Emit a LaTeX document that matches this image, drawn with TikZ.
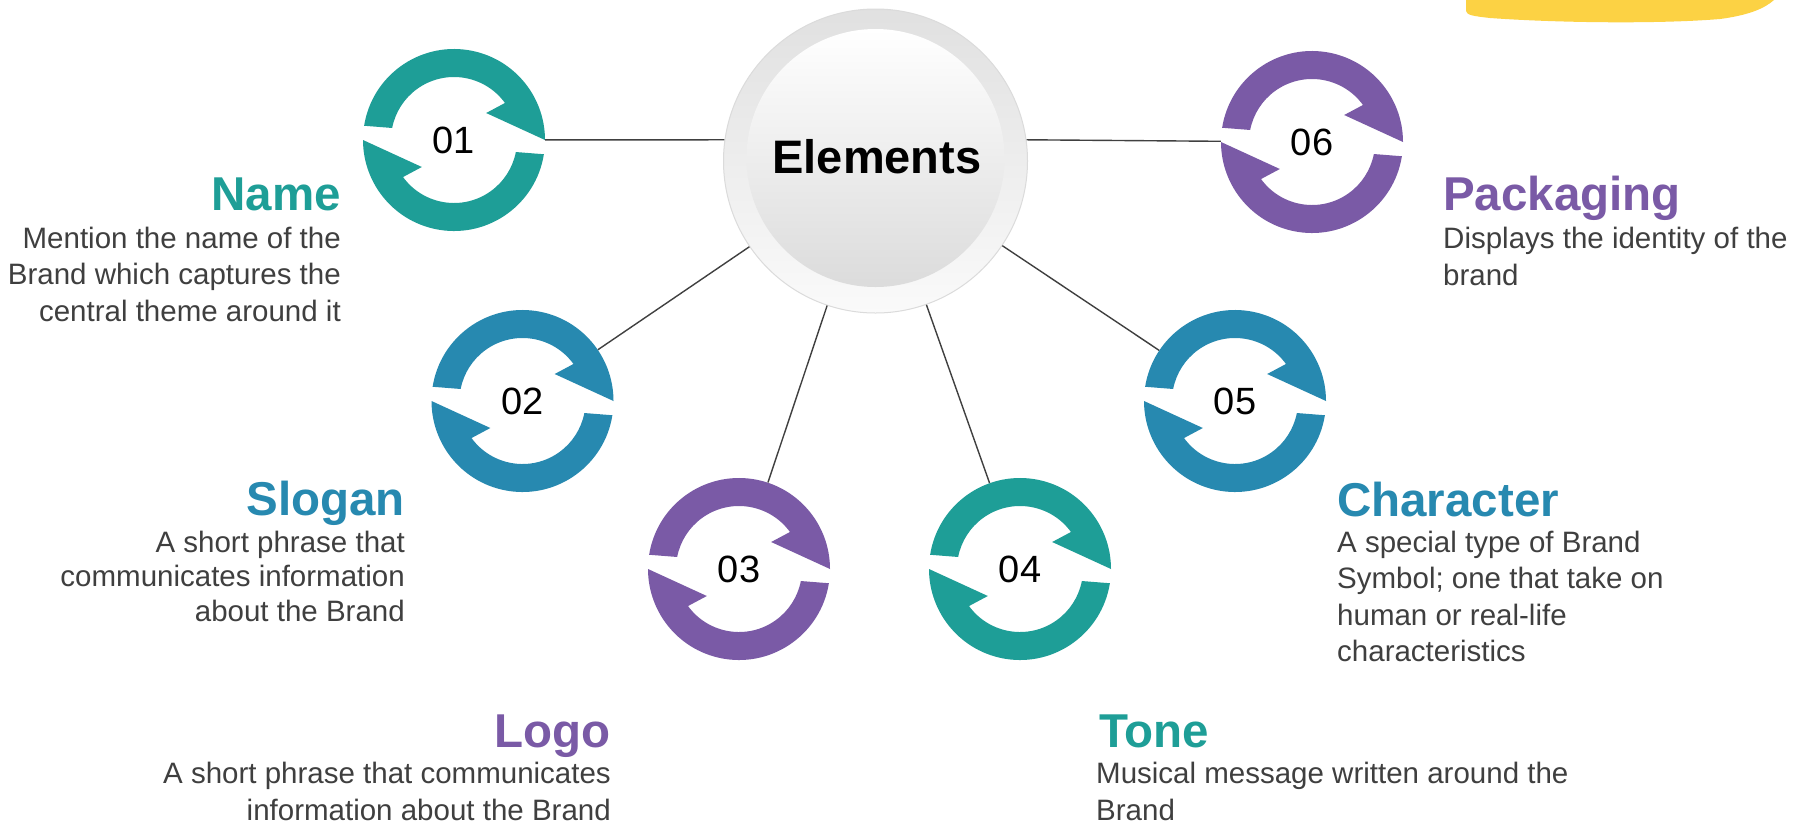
\documentclass[tikz,border=0pt]{standalone}
\usepackage{fontspec}
\setmainfont{Liberation Sans}
\definecolor{cteal}{HTML}{1E9E97}
\definecolor{cblue}{HTML}{2789B0}
\definecolor{cpurple}{HTML}{7A5AA6}
\definecolor{ctxt}{HTML}{3F3F3F}
\definecolor{cyellow}{HTML}{FCD244}
\definecolor{cline}{HTML}{404040}
\newcommand\rtxt[2]{\vtop{\baselineskip=#1pt\lineskiplimit=-1000pt\lineskip=0pt\halign{\hfil##\cr#2\crcr}}}
\newcommand\ltxt[2]{\vtop{\baselineskip=#1pt\lineskiplimit=-1000pt\lineskip=0pt\halign{##\hfil\cr#2\crcr}}}
\tikzset{
  ring/.pic={
    \fill[#1] (171:91) arc[start angle=171,end angle=0,radius=91] -- (40:42) -- (36:63) arc[start angle=36,end angle=169,radius=63] -- cycle;
    \fill[#1] (351:91) arc[start angle=351,end angle=180,radius=91] -- (220:42) -- (216:63) arc[start angle=216,end angle=349,radius=63] -- cycle;
  },
  icon/.style={circle, minimum size=182pt, inner sep=0pt, font=\fontsize{38}{40}\selectfont},
  conn/.style={draw=cline, line width=1.4pt},
  headtxt/.style={inner sep=0pt, text=#1, font=\bfseries\fontsize{47.5}{50}\selectfont},
  bodytxt/.style={inner sep=0pt, text=ctxt, font=\fontsize{29.5}{32}\selectfont},
}
\begin{document}
\begin{tikzpicture}[x=1pt,y=1pt]
\fill[white] (0,0) rectangle (1800,-823);
\useasboundingbox (0,0) rectangle (1800,-823);

% yellow shape top right
\fill[cyellow] (1466,0) -- (1466,-11) .. controls (1467,-15) and (1472,-16) .. (1490,-18)
  .. controls (1560,-23) and (1660,-24) .. (1720,-19) .. controls (1750,-15) and (1765,-8) .. (1774,0) -- cycle;

% centre
\node[circle, minimum size=304pt, inner sep=0pt, top color=gray!24, bottom color=gray!4, draw=gray!28, line width=1pt] (el) at (875.5,-161) {};
\node[circle, minimum size=258pt, inner sep=0pt, top color=white, bottom color=gray!28] (elin) at (875.5,-158) {};
\node[inner sep=0pt, anchor=base, font=\bfseries\fontsize{47}{50}\selectfont] (elt) at (877,-173) {Elements};

% icons
\node[icon] (i1) at (454,-140) {01};
\node[icon] (i2) at (522.5,-401) {02};
\node[icon] (i3) at (739,-569) {03};
\node[icon] (i4) at (1020,-569) {04};
\node[icon] (i5) at (1235,-401) {05};
\node[icon] (i6) at (1312,-142) {06};
\pic at (i1) {ring=cteal};
\pic at (i2) {ring=cblue};
\pic at (i3) {ring=cpurple};
\pic at (i4) {ring=cteal};
\pic at (i5) {ring=cblue};
\pic at (i6) {ring=cpurple};

% connectors
\draw[conn] (i1) -- (el.172);
\draw[conn] (i6) -- (el.8);
\draw[conn] (i2) -- (el);
\draw[conn] (i3) -- (el);
\draw[conn] (i4) -- (el);
\draw[conn] (i5) -- (el);

% texts
\node[headtxt=cteal, anchor=base east] (hname) at (341,-210) {Name};
\node[bodytxt, anchor=base east] (bname) at (341,-248) {\rtxt{36.5}{Mention the name of the\cr Brand which captures the\cr central theme around it}};

\node[headtxt=cblue, anchor=base east] (hslogan) at (405,-515) {Slogan};
\node[bodytxt, anchor=base east] (bslogan) at (405,-552) {\rtxt{34.5}{A short phrase that\cr communicates information\cr about the Brand}};

\node[headtxt=cpurple, anchor=base east] (hlogo) at (611,-747) {Logo};
\node[bodytxt, anchor=base east] (blogo) at (611,-783) {\rtxt{37}{A short phrase that communicates\cr information about the Brand}};

\node[headtxt=cteal, anchor=base west] (htone) at (1099,-747) {Tone};
\node[bodytxt, anchor=base west] (btone) at (1096,-783) {\ltxt{37}{Musical message written around the\cr Brand}};

\node[headtxt=cblue, anchor=base west] (hchar) at (1337,-516) {Character};
\node[bodytxt, anchor=base west] (bchar) at (1337,-552) {\ltxt{36.5}{A special type of Brand\cr Symbol; one that take on\cr human or real-life\cr characteristics}};

\node[headtxt=cpurple, anchor=base west] (hpack) at (1443,-210) {Packaging};
\node[bodytxt, anchor=base west] (bpack) at (1443,-248) {\ltxt{37}{Displays the identity of the\cr brand}};
\end{tikzpicture}
\end{document}
